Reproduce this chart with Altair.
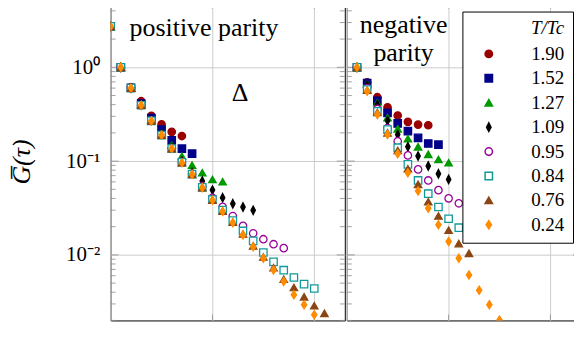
import altair as alt
import pandas as pd

TEMPS = ["1.90", "1.52", "1.27", "1.09", "0.95", "0.84", "0.76", "0.24"]
STROKES = ["#990000", "#000088", "#009900", "#000000", "#990099", "#129a9a", "#8b4513", "#ff8c00"]
FILLS = ["#990000", "#000088", "#009900", "#000000", "#ffffff", "#ffffff", "#8b4513", "#ff8c00"]
DIAMOND_K = "M0,-1.15L0.6,0L0,1.15L-0.6,0Z"
DIAMOND_O = "M0,-1.1L0.72,0L0,1.1L-0.72,0Z"
SHAPES = ["circle", "square", "triangle-up", DIAMOND_K, "circle", "square", "triangle-up", DIAMOND_O]

# positive parity, tau = 0, 1, 2, ...
pos_190 = [2.73, 1.0, 0.61, 0.435, 0.303, 0.246, 0.205, 0.185]
pos_152 = [2.73, 1.0, 0.605, 0.41, 0.287, 0.217, 0.166, 0.136, 0.120]
pos_127 = [2.73, 1.0, 0.60, 0.40, 0.275, 0.200, 0.148, 0.113, 0.0906, 0.0751, 0.0638, 0.0602]
pos_109 = [2.73, 1.0, 0.60, 0.397, 0.272, 0.195, 0.140, 0.100, 0.0751, 0.0612, 0.0491, 0.0407,
           0.0351, 0.0324, 0.0299]
pos_095 = [2.73, 1.0, 0.60, 0.395, 0.270, 0.190, 0.137, 0.098, 0.073, 0.054, 0.0407, 0.0325,
           0.0260, 0.0204, 0.0170, 0.0147, 0.0130, 0.0118]
pos_084 = [2.73, 1.0, 0.60, 0.394, 0.269, 0.189, 0.136, 0.097, 0.0725, 0.0525, 0.039, 0.0300,
           0.0232, 0.0180, 0.0141, 0.0106, 0.00843, 0.00687, 0.00574, 0.00488, 0.00438]
pos_076 = [2.73, 1.0, 0.60, 0.394, 0.268, 0.189, 0.136, 0.096, 0.0722, 0.052, 0.0383, 0.0292,
           0.0223, 0.0167, 0.0125, 0.0095, 0.0073, 0.00551, 0.00449, 0.00357, 0.00287, 0.00238]
pos_024 = [2.73, 1.0, 0.602, 0.394, 0.268, 0.190, 0.136, 0.0959, 0.0722, 0.0520, 0.0382, 0.0290,
           0.0220, 0.0163, 0.0122, 0.00922, 0.00692, 0.0052, 0.00375, 0.00294, 0.00230]

# negative parity, tau = 1, 2, 3, ...
neg_190 = [1.0, 0.69, 0.48, 0.375, 0.306, 0.262, 0.245, 0.241]
neg_152 = [1.0, 0.68, 0.44, 0.326, 0.252, 0.209, 0.177, 0.154, 0.150]
neg_127 = [1.0, 0.66, 0.42, 0.29, 0.221, 0.173, 0.142, 0.118, 0.104, 0.096]
neg_109 = [1.0, 0.64, 0.40, 0.27, 0.192, 0.142, 0.113, 0.0887, 0.0733, 0.0638]
neg_095 = [1.0, 0.60, 0.36, 0.225, 0.163, 0.115, 0.0816, 0.0622, 0.049, 0.0401, 0.0355]
neg_084 = [1.0, 0.58, 0.34, 0.217, 0.139, 0.0922, 0.0622, 0.0449, 0.0324, 0.0243, 0.0195, 0.0163]
neg_076 = [1.0, 0.57, 0.33, 0.20, 0.13, 0.083, 0.0565, 0.0369, 0.026, 0.0183, 0.0132, 0.0104]
neg_024 = [1.0, 0.555, 0.314, 0.192, 0.120, 0.075, 0.048, 0.0314, 0.0209, 0.0139, 0.00922,
           0.00612, 0.00421, 0.00294, 0.00202]

POS = [pos_190, pos_152, pos_127, pos_109, pos_095, pos_084, pos_076, pos_024]
NEG = [neg_190, neg_152, neg_127, neg_109, neg_095, neg_084, neg_076, neg_024]

Y_MAJOR = [1.0, 0.1, 0.01]
Y_MINOR = [0.002, 0.003, 0.004, 0.005, 0.006, 0.007, 0.008, 0.009,
           0.02, 0.03, 0.04, 0.05, 0.06, 0.07, 0.08, 0.09,
           0.2, 0.3, 0.4, 0.5, 0.6, 0.7, 0.8, 0.9, 2, 3, 4]
X_TICKS = [10, 20]

W, H = 235, 319
FONT = "Liberation Serif"


def series_frame(lists, tau0):
    rows = []
    k = 0
    for t, vals in zip(TEMPS, lists):
        for i, v in enumerate(vals):
            rows.append({"T": t, "tau": tau0 + i, "G": v, "k": k})
            k += 1
    return pd.DataFrame(rows)


xscale = alt.Scale(domain=[0, 23], nice=False, zero=False)
yscale = alt.Scale(type="log", domain=[0.002, 4.9], nice=False)


def panel(df, first, texts, legend):
    if first:
        yaxis = alt.Axis(values=Y_MAJOR, ticks=False, domain=False, grid=True,
                         labelExpr="datum.value >= 1 ? '10⁰' : datum.value >= 0.1 ? '10⁻¹' : '10⁻²'",
                         labelFont=FONT, labelFontSize=21, labelPadding=11, labelColor="black",
                         title="G̅(τ)", titleFont=FONT, titleFontSize=26, titleFontStyle="italic",
                         titleFontWeight="normal", titlePadding=31, titleColor="black")
    else:
        yaxis = alt.Axis(values=Y_MAJOR, ticks=False, domain=False, grid=True, labels=False,
                         title=None)
    xaxis = alt.Axis(values=[0, 10, 20], ticks=False, domain=False, grid=True, labels=False,
                     title=None)
    pts = alt.Chart(df).mark_point(opacity=1, size=55, strokeWidth=1.3, clip=True).encode(
        x=alt.X("tau:Q", scale=xscale, axis=xaxis),
        y=alt.Y("G:Q", scale=yscale, axis=yaxis),
        stroke=alt.Stroke("T:N", scale=alt.Scale(domain=TEMPS, range=STROKES), legend=legend),
        fill=alt.Fill("T:N", scale=alt.Scale(domain=TEMPS, range=FILLS), legend=legend),
        shape=alt.Shape("T:N", scale=alt.Scale(domain=TEMPS, range=SHAPES), legend=legend),
        order=alt.Order("k:Q"),
    )
    minor = pd.DataFrame({"v": Y_MINOR})
    major = pd.DataFrame({"v": Y_MAJOR})
    xt = pd.DataFrame({"t": X_TICKS})
    layers = []
    for d, ln in ((minor, 5), (major, 8)):
        for a, b in ((0, ln), (W - ln, W)):
            layers.append(alt.Chart(d).mark_rule(color="#8c8c8c", strokeWidth=0.8).encode(
                y=alt.Y("v:Q", scale=yscale, axis=yaxis), x=alt.value(a), x2=alt.value(b)))
    for a, b in ((H - 6, H), (0, 6)):
        layers.append(alt.Chart(xt).mark_rule(color="#8c8c8c", strokeWidth=0.8).encode(
            x=alt.X("t:Q", scale=xscale, axis=xaxis), y=alt.value(a), y2=alt.value(b)))
    for txt, px, py, al in texts:
        layers.append(alt.Chart(pd.DataFrame({"s": [txt]})).mark_text(
            font=FONT, fontSize=26, align=al, baseline="alphabetic", color="black").encode(
            text="s:N", x=alt.value(px), y=alt.value(py)))
    return alt.layer(*layers, pts).properties(width=W, height=H)


legend = alt.Legend(title="T/Tc", orient="none", legendX=116, legendY=9,
                    fillColor="white", strokeColor="black", padding=8,
                    titleFont=FONT, titleFontSize=19, titleFontStyle="italic",
                    titleFontWeight="normal", titleAnchor="end", titlePadding=6,
                    titleColor="black",
                    labelFont=FONT, labelFontSize=19, labelColor="black",
                    symbolSize=55, symbolStrokeWidth=1.5, symbolOffset=9,
                    labelOffset=33, rowPadding=4.5)

left = panel(series_frame(POS, 0), True,
             [("positive parity", 19, 34, "left"), ("Δ", 130, 99, "center")], None)
right = panel(series_frame(NEG, 1), False,
              [("negative", 57, 31, "center"), ("parity", 57, 59, "center")], legend)

chart = alt.hconcat(left, right, spacing=0).resolve_scale(
    stroke="independent", fill="independent", shape="independent"
).resolve_legend(
    stroke="independent", fill="independent", shape="independent"
).properties(
    padding={"left": 0, "top": -7, "right": -8, "bottom": 0}
).configure_view(stroke="black", strokeWidth=1).configure_axis(
    gridColor="#cccccc", gridWidth=1
)

chart.save("out.html", embed_options={"renderer": "svg", "actions": False})
